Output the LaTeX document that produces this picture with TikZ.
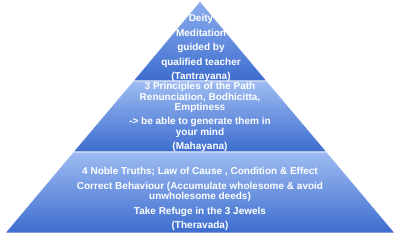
\documentclass[tikz,border=0pt]{standalone}
\usepackage{fontspec}
\setmainfont{Liberation Sans}
\definecolor{tierlight}{RGB}{158,188,242}
\definecolor{tierdark}{RGB}{60,108,206}
\definecolor{apexblue}{RGB}{140,174,238}
\usepackage{tikz}

\begin{document}
\begin{tikzpicture}[x=1pt,y=-1pt,
    tier/.style={draw=white,line width=0.8pt,top color=tierlight,bottom color=tierdark},
    tiertext/.style={text=white,align=center,inner sep=0pt,
                     font=\fontsize{10}{10.5}\selectfont\bfseries}]
    \useasboundingbox (0,0) rectangle (400,238);
    % corners of the pyramid
    \coordinate (apex) at (200,1);
    \coordinate (t1l) at (133,81);  \coordinate (t1r) at (267,81);
    \coordinate (t2l) at (73,152);  \coordinate (t2r) at (327,152);
    \coordinate (t3l) at (5,233);   \coordinate (t3r) at (395,233);
    % tiers
    \path[tier,top color=apexblue] (apex) -- (t1l) -- (t1r) -- cycle;
    \path[tier] (t1l) -- (t2l) -- (t2r) -- (t1r) -- cycle;
    \path[tier] (t2l) -- (t3l) -- (t3r) -- (t2r) -- cycle;
    % labels
    \node[tiertext] (tantra) at (201,48) {
        Deity\\[4pt]
        Meditation\\[4pt]
        guided by\\[4pt]
        qualified teacher\\[4pt]
        (Tantrayana)
    };
    \node[tiertext] (maha) at (200,117) {
        3 Principles of the Path\\
        Renunciation, Bodhicitta,\\
        Emptiness\\[3.5pt]
        -> be able to generate them in\\
        your mind\\[3.5pt]
        (Mahayana)
    };
    \node[tiertext] (thera) at (200,199) {
        4 Noble Truths; Law of Cause , Condition \& Effect\\[4.5pt]
        Correct Behaviour (Accumulate wholesome \& avoid\\[-1pt]
        unwholesome deeds)\\[5pt]
        Take Refuge in the 3 Jewels\\[3.5pt]
        (Theravada)
    };
\end{tikzpicture}
\end{document}
